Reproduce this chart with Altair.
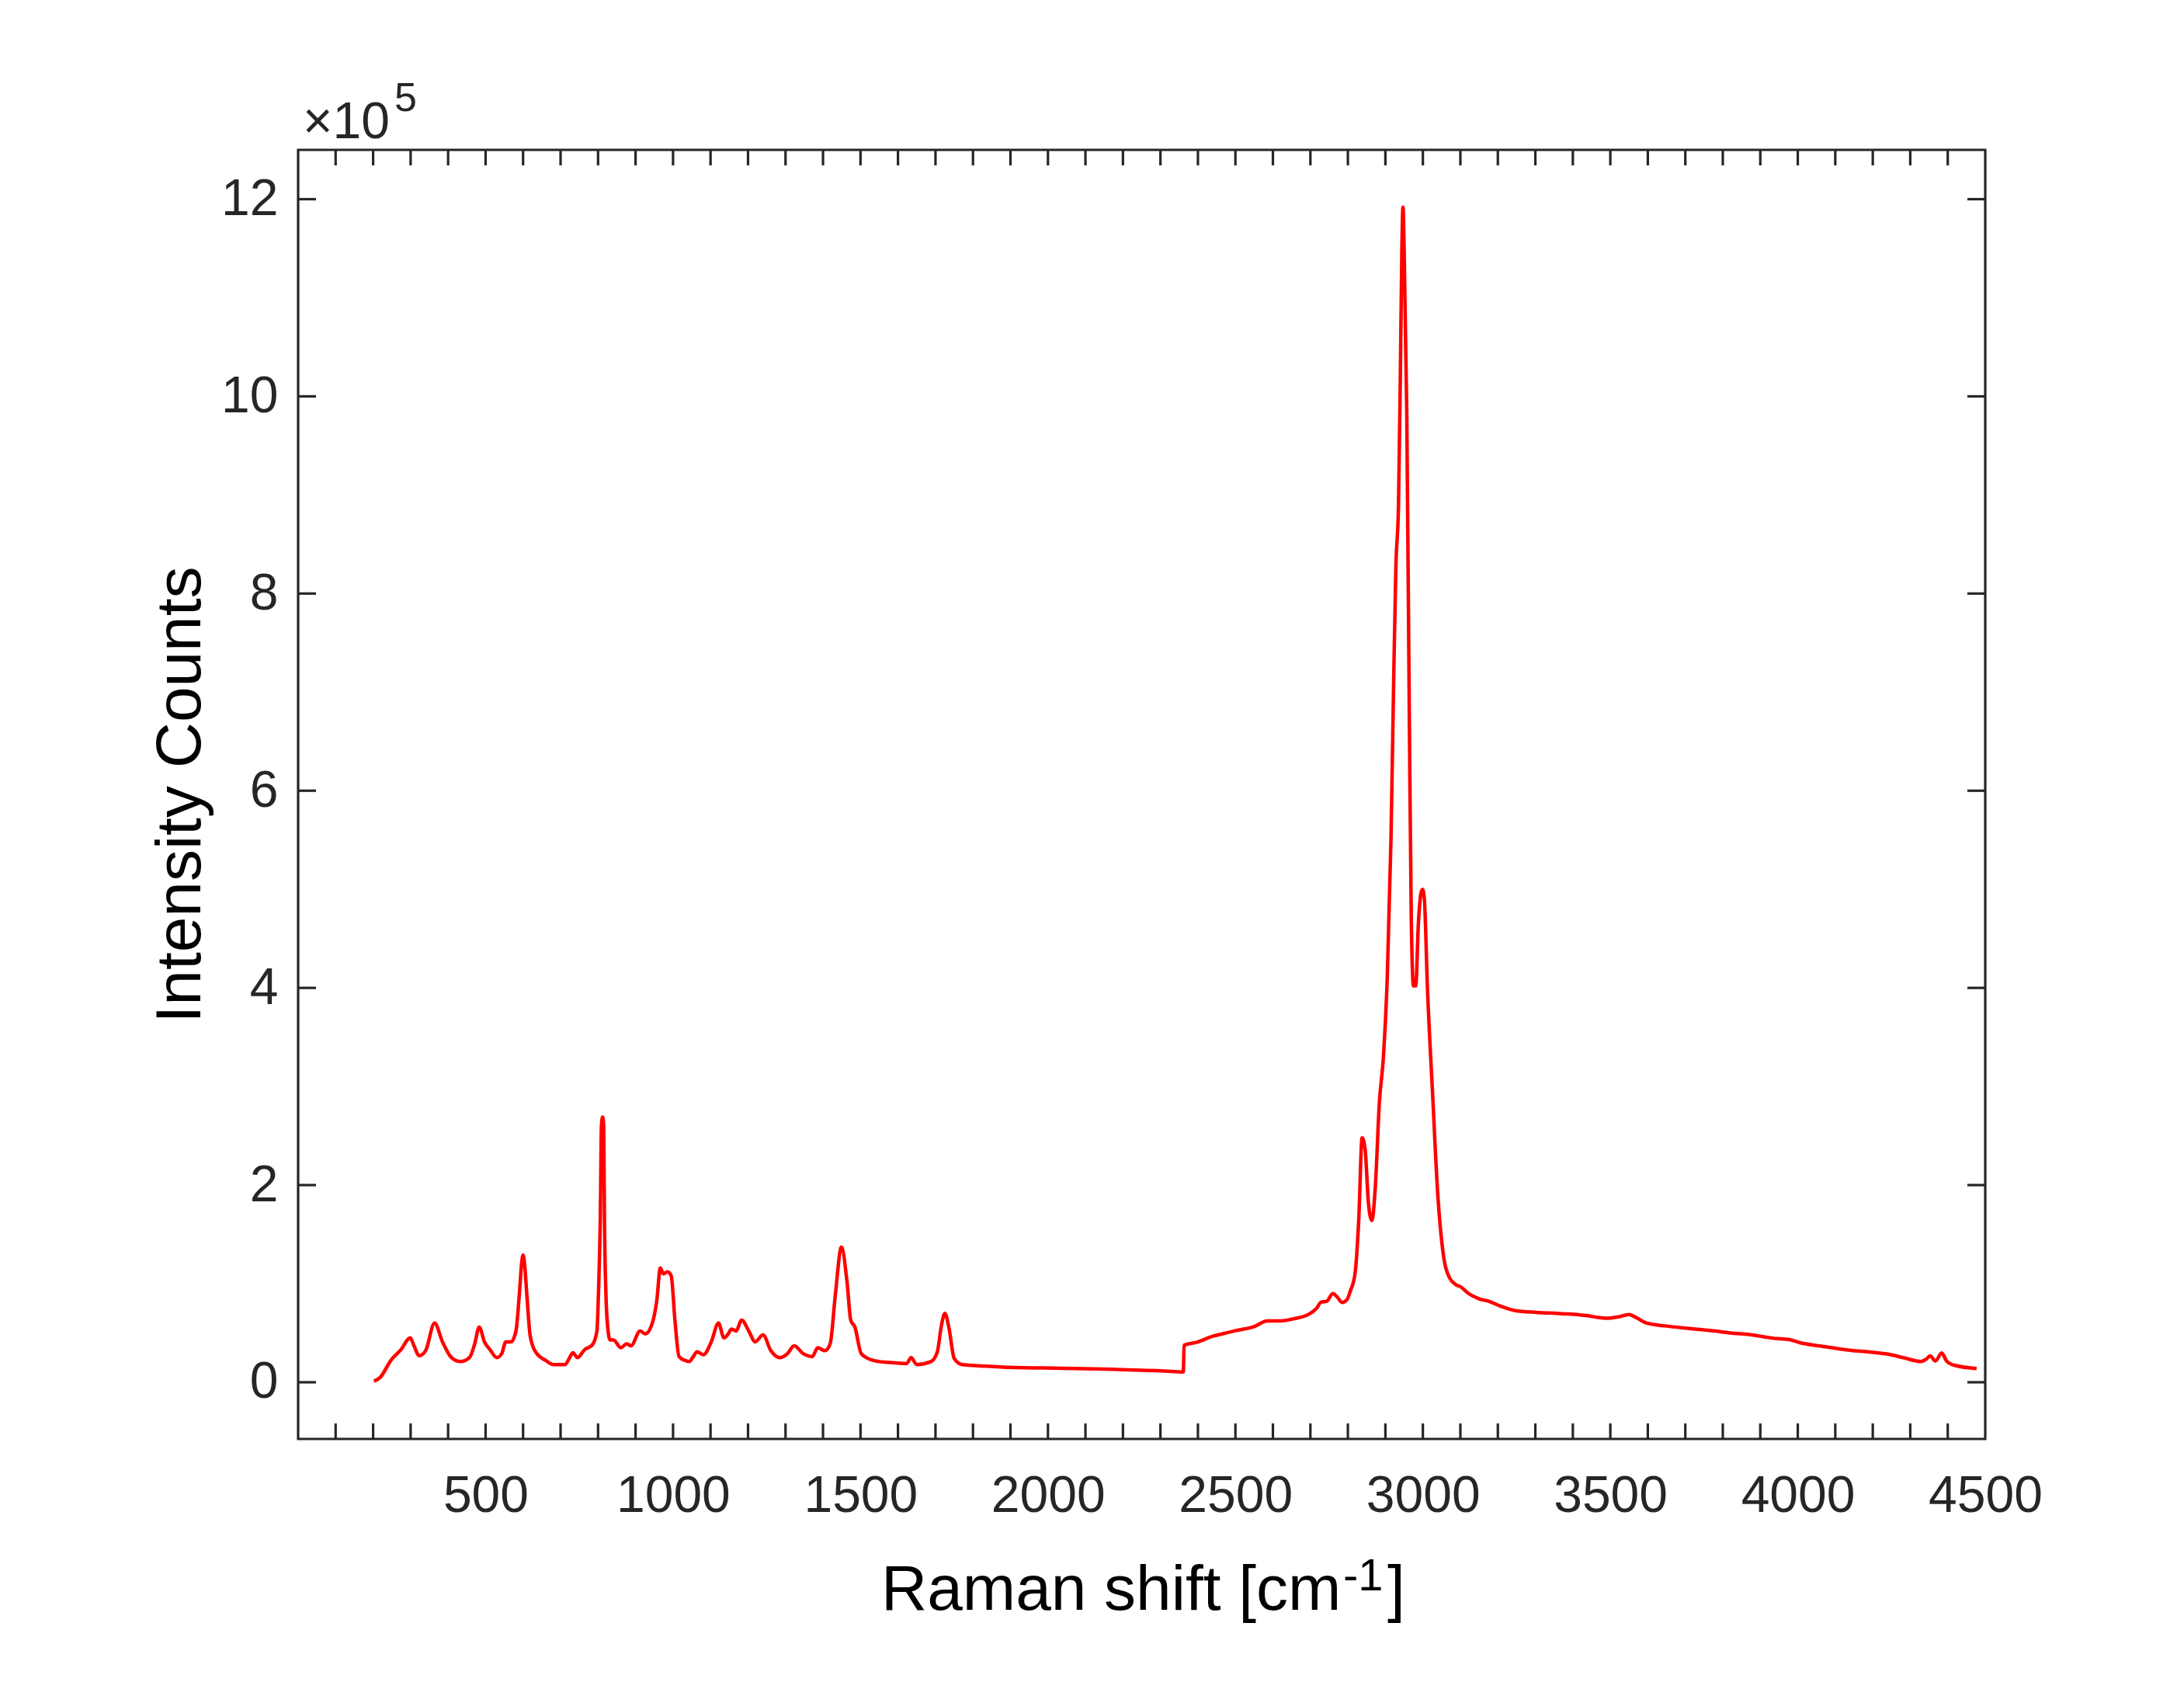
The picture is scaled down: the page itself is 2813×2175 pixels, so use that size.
import altair as alt
import pandas as pd

# ---- data (Raman shift in cm^-1, intensity in units of 1e5 counts) ----
raman_shift = [
    202, 219, 247, 274, 299, 309, 323, 340, 364, 385, 409, 433, 457, 471, 483,
    497, 512, 530, 543, 554, 568, 581, 590, 596, 600, 604, 610, 619, 633, 661,
    681, 712, 723, 733, 745, 764, 785, 797, 801, 806, 809, 812, 815, 817, 821,
    826, 832, 841, 861, 876, 888, 912, 926, 943, 957, 966, 974, 985, 995, 1005,
    1016, 1033, 1043, 1054, 1064, 1081, 1102, 1121, 1136, 1147, 1156, 1168,
    1183, 1202, 1219, 1240, 1261, 1285, 1305, 1323, 1347, 1371, 1386, 1405,
    1419, 1433, 1449, 1464, 1474, 1485, 1502, 1536, 1578, 1623, 1635, 1650,
    1688, 1705, 1716, 1725, 1736, 1750, 1771, 1854, 1895, 2033, 2171, 2309,
    2361, 2363, 2398, 2440, 2460, 2502, 2550, 2585, 2619, 2654, 2695, 2716,
    2729, 2743, 2760, 2771, 2785, 2798, 2806, 2819, 2829, 2838, 2846, 2855,
    2864, 2873, 2884, 2895, 2905, 2915, 2922, 2928, 2935, 2940, 2944, 2947,
    2950, 2957, 2964, 2969, 2975, 2981, 2988, 2995, 2999, 3004, 3012, 3026,
    3040, 3053, 3071, 3088, 3100, 3122, 3150, 3177, 3205, 3246, 3302, 3371,
    3440, 3467, 3488, 3522, 3550, 3571, 3598, 3646, 3715, 3784, 3830, 3867,
    3936, 3977, 4005, 4060, 4143, 4191, 4246, 4281, 4329, 4343, 4353, 4367,
    4384, 4397, 4419, 4477,
]
intensity_e5 = [
    0.01, 0.05, 0.22, 0.33, 0.45, 0.37, 0.27, 0.32, 0.60, 0.41, 0.25, 0.21, 0.25, 0.39, 0.56,
    0.41, 0.33, 0.25, 0.29, 0.41, 0.41, 0.52, 0.89, 1.20, 1.29, 1.20, 0.89, 0.47, 0.31, 0.22,
    0.18, 0.18, 0.24, 0.30, 0.25, 0.33, 0.38, 0.52, 0.89, 1.68, 2.60, 2.69, 2.60, 1.68, 0.89,
    0.55, 0.43, 0.43, 0.35, 0.39, 0.37, 0.52, 0.49, 0.58, 0.84, 1.16, 1.10, 1.12, 1.08, 0.63,
    0.26, 0.22, 0.21, 0.26, 0.31, 0.28, 0.41, 0.60, 0.45, 0.49, 0.54, 0.52,
    0.63, 0.52, 0.41, 0.48, 0.32, 0.25, 0.29, 0.37, 0.29, 0.26, 0.35, 0.32,
    0.39, 0.89, 1.37, 1.02, 0.63, 0.56, 0.29, 0.22, 0.20, 0.19, 0.25, 0.18,
    0.21, 0.31, 0.58, 0.70, 0.55, 0.24, 0.18, 0.16, 0.152, 0.142, 0.131, 0.115,
    0.105, 0.375, 0.407, 0.467, 0.486, 0.525, 0.565, 0.622, 0.622, 0.643, 0.688, 0.749,
    0.814, 0.82, 0.90, 0.867, 0.809, 0.84, 0.92, 1.10, 1.65, 2.48, 2.36, 1.81,
    1.64, 1.97, 2.84, 3.31, 4.10, 5.52, 7.09, 8.27, 8.90, 10.24, 11.5, 11.92,
    11.5, 9.85, 6.70, 4.73, 4.02, 4.02, 4.65, 4.96, 5.00, 4.90, 4.02, 2.92,
    1.89, 1.34, 1.06, 0.99, 0.97, 0.90, 0.846, 0.82, 0.775, 0.727, 0.709, 0.696,
    0.675, 0.657, 0.649, 0.664, 0.688, 0.651, 0.599, 0.572, 0.544, 0.517, 0.497, 0.486,
    0.446, 0.433, 0.402, 0.368, 0.323, 0.307, 0.281, 0.25, 0.21, 0.236, 0.268, 0.215,
    0.297, 0.215, 0.171, 0.14,
]

x_tick_marks = [100 * i for i in range(1, 45)]
x_tick_labels = [500, 1000, 1500, 2000, 2500, 3000, 3500, 4000, 4500]
y_tick_labels = [0, 2, 4, 6, 8, 10, 12]
x_title_main = ["Raman shift [cm"]
x_title_sup = ["-1"]
x_title_end = ["]"]
y_title = "Intensity Counts"
exp_base = ["\u00d710"]
exp_power = ["5"]

W, H = 2173, 1660
AX = "#262626"
FONT = "Liberation Sans"

df = pd.DataFrame({"shift": raman_shift, "intensity": intensity_e5})

xscale = alt.Scale(domain=[0, 4500], nice=False, zero=False)
yscale = alt.Scale(domain=[-0.575, 12.5], nice=False, zero=False)

x_axis = alt.Axis(
    values=x_tick_labels, format="d", title=None, grid=False, ticks=False, domain=False,
    labelFontSize=66, labelColor=AX, labelFont=FONT, labelPadding=41,
    labelFlush=False, labelOverlap=False,
)
y_axis = alt.Axis(
    values=y_tick_labels, format="d", title=y_title, grid=False, ticks=False, domain=False,
    labelFontSize=66, labelColor=AX, labelFont=FONT, labelPadding=26,
    labelFlush=False, labelOverlap=False,
    titleFontSize=82, titleFont=FONT, titleColor="#000000", titleFontWeight="normal",
    titleX=-127, titleY=H / 2, titleAngle=270, titleAlign="center",
    titleBaseline="alphabetic",
)

line = alt.Chart(df).mark_line(
    color="#FF0000", strokeWidth=4.5, interpolate="monotone"
).encode(
    x=alt.X("shift:Q", scale=xscale, axis=x_axis),
    y=alt.Y("intensity:Q", scale=yscale, axis=y_axis),
)

xt = pd.DataFrame({"shift": x_tick_marks})
yt = pd.DataFrame({"intensity": y_tick_labels})
TL = 20
rule_style = dict(color=AX, strokeWidth=3.2)

top_ticks = alt.Chart(xt).mark_rule(**rule_style).encode(
    x=alt.X("shift:Q", scale=xscale, axis=x_axis), y=alt.value(0), y2=alt.value(TL))
bot_ticks = alt.Chart(xt).mark_rule(**rule_style).encode(
    x=alt.X("shift:Q", scale=xscale, axis=x_axis), y=alt.value(H - TL), y2=alt.value(H))
left_ticks = alt.Chart(yt).mark_rule(**rule_style).encode(
    y=alt.Y("intensity:Q", scale=yscale, axis=y_axis), x=alt.value(0), x2=alt.value(23))
right_ticks = alt.Chart(yt).mark_rule(**rule_style).encode(
    y=alt.Y("intensity:Q", scale=yscale, axis=y_axis), x=alt.value(W - 23), x2=alt.value(W))

def txt(labels, x, y, size, color):
    return alt.Chart(pd.DataFrame({"t": labels})).mark_text(
        align="left", baseline="alphabetic", fontSize=size, font=FONT, color=color
    ).encode(text="t:N", x=alt.value(x), y=alt.value(y))

title_a = txt(x_title_main, 751, 1880, 82, "#000000")
title_b = txt(x_title_sup, 1346, 1855, 58, "#000000")
title_c = txt(x_title_end, 1403, 1880, 82, "#000000")
exp_a = txt(exp_base, 6, -15, 66, AX)
exp_b = txt(exp_power, 124, -50, 52, AX)

chart = alt.layer(
    line, top_ticks, bot_ticks, left_ticks, right_ticks,
    title_a, title_b, title_c, exp_a, exp_b,
).properties(
    width=W, height=H,
    autosize=alt.AutoSizeParams(type="none"),
    padding={"left": 376, "top": 185, "right": 100, "bottom": 250},
    background="white",
).configure(
    font=FONT
).configure_view(
    stroke=AX, strokeWidth=3.2
)

chart.save("out.html", embed_options={"renderer": "svg", "actions": False})
